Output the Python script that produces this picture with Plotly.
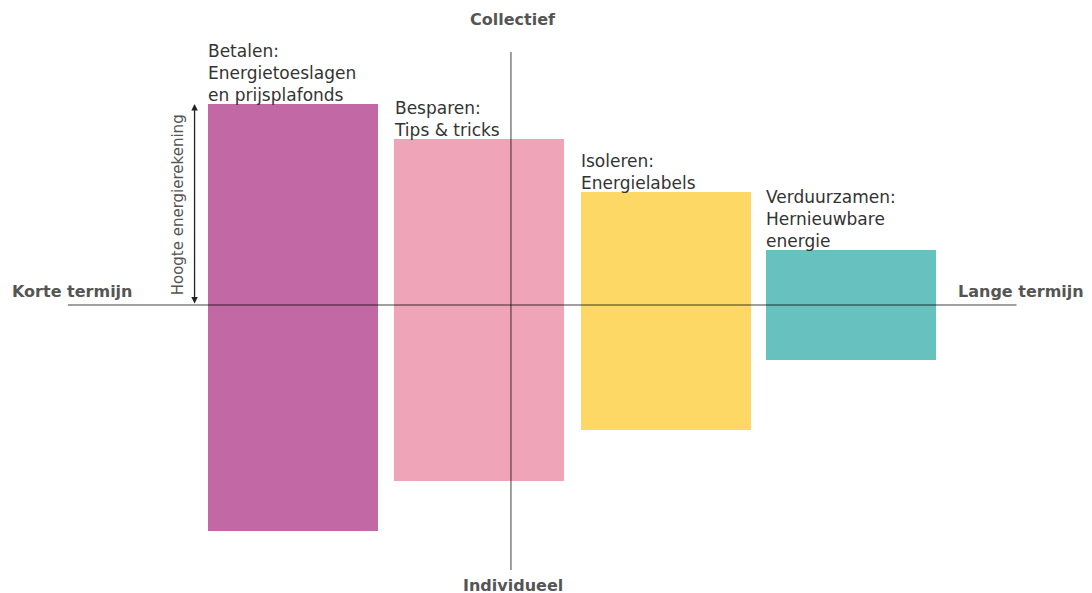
import plotly.graph_objects as go

# Data
categories = ["Betalen:<br>Energietoeslagen<br>en prijsplafonds",
              "Besparen:<br>Tips & tricks",
              "Isoleren:<br>Energielabels",
              "Verduurzamen:<br>Hernieuwbare<br>energie"]
positions = [0, 1.0, 2.005, 3.0]
above_axis = [20.1, 16.6, 11.3, 5.5]   # collectief part
below_axis = [22.6, 17.6, 12.5, 5.5]   # individueel part
colors = ["#C268A4", "#EFA5B7", "#FED864", "#67C1BE"]

bar_width = 0.918
x_cross = 1.172
x_range = [-1.532, 4.339]
y_range = [-29.6, 29.7]
h_line = [-1.21, 3.89]
v_line = [-26.5, 25.3]

fig = go.Figure()
fig.add_trace(go.Bar(
    x=positions,
    y=[a + b for a, b in zip(above_axis, below_axis)],
    base=[-b for b in below_axis],
    width=bar_width,
    marker=dict(color=colors, line=dict(width=0)),
    hoverinfo="skip",
    showlegend=False,
))

line_col = "rgba(0,0,0,0.5)"
fig.add_shape(type="line", x0=h_line[0], x1=h_line[1], y0=0, y1=0,
              line=dict(color=line_col, width=1.5), layer="above")
fig.add_shape(type="line", x0=x_cross, x1=x_cross, y0=v_line[0], y1=v_line[1],
              line=dict(color=line_col, width=1.5), layer="above")

text_font = dict(family="DejaVu Sans", size=17, color="#333333")
for p, a, label in zip(positions, above_axis, categories):
    fig.add_annotation(x=p - bar_width / 2, y=a, text=label, showarrow=False,
                       xanchor="left", yanchor="bottom", align="left",
                       font=text_font, xshift=-2, yshift=-3)

bold = dict(family="DejaVu Sans", size=16, color="#555555")
fig.add_annotation(x=-1.522, y=0, text="<b>Korte termijn</b>",
                   showarrow=False, xanchor="left", yanchor="bottom",
                   font=bold, yshift=2)
fig.add_annotation(x=4.263, y=0, text="<b>Lange termijn</b>",
                   showarrow=False, xanchor="right", yanchor="bottom",
                   font=bold, yshift=2)
fig.add_annotation(x=x_cross, y=28.6, text="<b>Collectief</b>",
                   showarrow=False, xanchor="center", yanchor="middle",
                   font=bold, xshift=2)
fig.add_annotation(x=x_cross, y=-28.0, text="<b>Individueel</b>",
                   showarrow=False, xanchor="center", yanchor="middle",
                   font=bold, xshift=2)

# Double-headed arrow for height of energy bill
arrow_x = positions[0] - bar_width / 2 - 0.07
fig.add_annotation(x=arrow_x, y=above_axis[0], ax=arrow_x, ay=0,
                   xref="x", yref="y", axref="x", ayref="y",
                   text="", showarrow=True, arrowhead=2, arrowside="end+start",
                   arrowsize=1, arrowwidth=1.3, arrowcolor="#222222")
fig.add_annotation(x=arrow_x - 0.09, y=above_axis[0] / 2,
                   text="Hoogte energierekening", textangle=-90,
                   showarrow=False, xanchor="center", yanchor="middle",
                   font=dict(family="DejaVu Sans", size=15, color="#555555"))

fig.update_layout(
    width=1092, height=593,
    margin=dict(l=0, r=0, t=0, b=0),
    plot_bgcolor="white", paper_bgcolor="white",
    xaxis=dict(range=x_range, visible=False, fixedrange=True),
    yaxis=dict(range=y_range, visible=False, fixedrange=True),
    bargap=0,
)

fig.write_html("out.html")
